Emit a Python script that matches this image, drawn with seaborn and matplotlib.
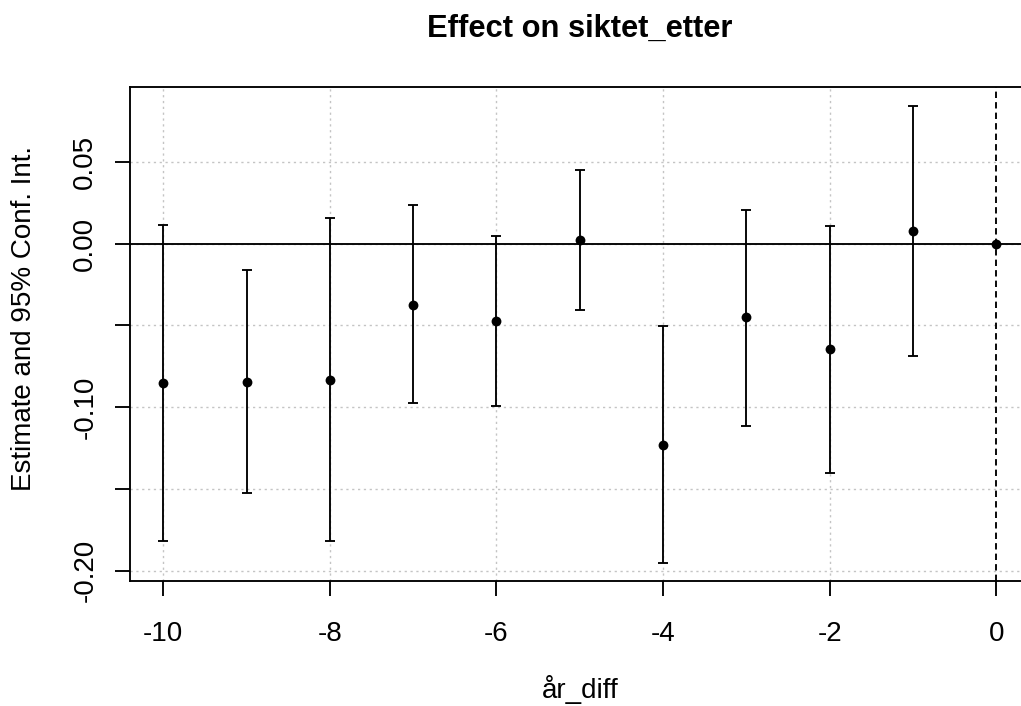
import matplotlib
matplotlib.use("Agg")
import matplotlib.pyplot as plt
import seaborn as sns
import numpy as np
import pandas as pd

# ---- data ----
periods = [-10, -9, -8, -7, -6, -5, -4, -3, -2, -1, 0]
estimates = [-0.0853, -0.0843, -0.0833, -0.0373, -0.0471, 0.0023, -0.1230, -0.0450, -0.0644, 0.0076, 0.0]
ci_low = [-0.1820, -0.1522, -0.1820, -0.0972, -0.0992, -0.0405, -0.1950, -0.1112, -0.1400, -0.0688, 0.0]
ci_high = [0.0116, -0.0163, 0.0159, 0.0237, 0.0049, 0.0449, -0.0503, 0.0208, 0.0110, 0.0840, 0.0]
x_ticks = [-10, -8, -6, -4, -2, 0]
y_ticks = [-0.20, -0.15, -0.10, -0.05, 0.00, 0.05]
y_labels = ["-0.20", "", "-0.10", "", "0.00", "0.05"]
title = "Effect on siktet_etter"
xlabel = "år_diff"
ylabel = "Estimate and 95% Conf. Int."

df = pd.DataFrame({"period": periods, "estimate": estimates,
                   "lo": ci_low, "hi": ci_high})

sns.set_style("white")
plt.rcParams["font.family"] = ["Liberation Sans", "DejaVu Sans"]
plt.rcParams["text.color"] = "black"

W, H = 1021, 706
fig = plt.figure(figsize=(W / 100, H / 100), dpi=100)
left_px, right_px, top_px, bottom_px = 130, 1029.5, 87, 581
ax = fig.add_axes([left_px / W, 1 - bottom_px / H,
                   (right_px - left_px) / W, (bottom_px - top_px) / H])
ax.set_xlim(-10.4, 0.4)
ax.set_ylim(-0.2062, 0.0958)

grid_kw = dict(color="#c4c4c4", lw=1.0, linestyle=(0, (1.6, 2.6)), zorder=0)
for xv in x_ticks[:-1]:
    ax.axvline(xv, **grid_kw)
for yv in y_ticks:
    ax.axhline(yv, **grid_kw)

lw = 1.35
ax.axhline(0, color="black", lw=lw, zorder=1)
ax.axvline(0, color="black", lw=lw, linestyle=(0, (3.4, 2.2)), zorder=1)

ci = df[df["hi"] != df["lo"]]
ax.errorbar(ci["period"], ci["estimate"],
            yerr=[ci["estimate"] - ci["lo"], ci["hi"] - ci["estimate"]],
            fmt="none", ecolor="black", elinewidth=lw, capsize=3.8,
            capthick=lw, zorder=2)
sns.scatterplot(data=df, x="period", y="estimate", color="black",
                edgecolor="black", s=50, linewidth=0, zorder=3, ax=ax,
                legend=False)

for side in ["left", "bottom", "top", "right"]:
    ax.spines[side].set_color("black")
    ax.spines[side].set_linewidth(lw)

ax.set_xticks(x_ticks)
ax.set_xticklabels([str(v) for v in x_ticks])
ax.set_yticks(y_ticks)
ax.set_yticklabels(y_labels, rotation=90, va="center")
ax.tick_params(axis="both", direction="out", length=10.8, width=lw,
               colors="black", labelcolor="black", labelsize=20,
               bottom=True, left=True, top=False, right=False)
ax.tick_params(axis="x", pad=18)
ax.tick_params(axis="y", pad=12)
ax.set_xlabel("")
ax.set_ylabel("")

fig.text((left_px + right_px) / 2 / W, 1 - 29 / H, title, ha="center",
         va="center", fontsize=22.2, fontweight="bold", color="black")
fig.text((left_px + right_px) / 2 / W, 1 - 689 / H, xlabel, ha="center",
         va="center", fontsize=20, color="black")
fig.text(24 / W, 1 - 319 / H, ylabel, ha="center",
         va="center", rotation=90, fontsize=20, color="black")

fig.savefig("out.png", dpi=100)
